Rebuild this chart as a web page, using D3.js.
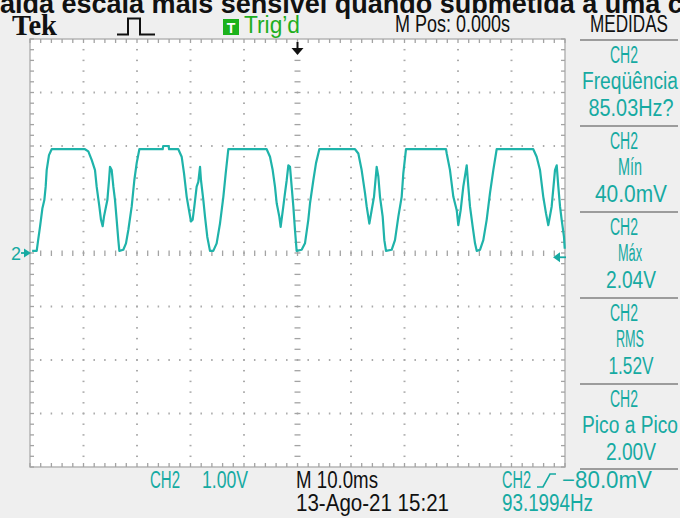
<!DOCTYPE html>
<html>
<head>
<meta charset="utf-8">
<script src="https://cdn.jsdelivr.net/npm/d3@7"></script>
<style>
  html, body { margin: 0; padding: 0; background: #efefef; }
  svg { display: block; }
</style>
</head>
<body>
<script>
// CH2 acquisition: time (ms, trigger at 0) and voltage (V)
const timeMs = [
  -49.6, -48.75, -48.44, -48.13, -47.69, -47.32, -47.07, -46.88, -46.45, -45.95,
  -39.72, -39.10, -38.47, -37.85, -37.54, -37.04, -36.73, -36.42, -36.17, -35.79,
  -35.54, -35.23, -35.05, -34.73, -34.42, -34.11, -33.80, -33.49, -33.30, -32.56,
  -32.06, -31.62, -30.99, -30.50, -30.06, -29.56, -25.2, -25.1, -24.1, -24.0,
  -22.28, -21.65, -21.21, -20.71, -20.28, -19.91, -19.60, -19.28, -18.85, -18.54,
  -18.22, -18.04, -17.60, -17.29, -16.86, -16.36, -15.74, -15.11, -14.49, -13.86,
  -13.42, -12.93, -5.76, -5.14, -4.64, -4.21, -3.89, -3.40, -3.15, -2.65,
  -2.34, -2.02, -1.71, -1.40, -1.09, -0.78, -0.47, -0.16, 0.78, 1.40,
  2.02, 2.34, 2.96, 3.46, 4.08, 10.75, 11.37, 11.99, 12.62, 12.93,
  13.43, 13.86, 14.30, 14.80, 15.11, 15.42, 15.92, 16.23, 16.54, 17.60,
  18.22, 18.85, 19.47, 19.78, 20.28, 27.76, 27.89, 28.50, 29.13, 29.76,
  30.06, 30.50, 30.99, 31.63, 31.93, 32.24, 32.75, 33.18, 33.50, 34.11,
  34.73, 35.36, 35.98, 36.60, 37.23, 44.07, 44.70, 45.33, 45.94, 46.45,
  46.88, 47.51, 48.13, 48.45, 48.75, 49.07, 49.38, 49.81, 49.95
];
const ch2Volts = [
  0.04, 0.04, 0.27, 0.49, 0.83, 0.99, 1.24, 1.55, 1.83, 1.94,
  1.94, 1.90, 1.74, 1.55, 1.24, 0.87, 0.62, 0.50, 0.68, 0.87,
  0.99, 1.36, 1.61, 1.55, 1.24, 0.99, 0.62, 0.24, 0.04, 0.06,
  0.18, 0.43, 0.87, 1.36, 1.68, 1.94, 1.94, 2.00, 2.00, 1.94,
  1.94, 1.80, 1.49, 1.05, 0.80, 0.59, 0.62, 0.87, 1.24, 1.33,
  1.61, 1.36, 0.99, 0.68, 0.30, 0.04, 0.04, 0.18, 0.55, 1.05,
  1.49, 1.94, 1.94, 1.80, 1.55, 1.24, 0.93, 0.68, 0.49, 0.87,
  1.12, 1.36, 1.64, 1.61, 1.24, 0.87, 0.43, 0.04, 0.06, 0.18,
  0.62, 0.93, 1.36, 1.68, 1.94, 1.94, 1.86, 1.55, 1.12, 0.87,
  0.55, 0.80, 1.05, 1.61, 1.43, 1.05, 0.68, 0.24, 0.04, 0.06,
  0.24, 0.68, 1.05, 1.49, 1.94, 1.94, 1.86, 1.55, 1.05, 0.80,
  0.52, 0.80, 1.24, 1.64, 1.24, 0.87, 0.49, 0.18, 0.04, 0.06,
  0.24, 0.62, 1.12, 1.55, 1.94, 1.94, 1.80, 1.55, 1.05, 0.74,
  0.52, 0.87, 1.55, 1.64, 1.24, 0.87, 0.62, 0.30, 0.08
];

// Display settings
const timeDomain = [-50, 50];     // 10.0 ms/div, 10 divisions
const voltDomain = [-4, 4];       // 1.00 V/div, 8 divisions
const triggerLevel = -0.08;       // V

// Measurement panel
const measSource = ["CH2", "CH2", "CH2", "CH2", "CH2"];
const measNames = ["Freqüência", "Mín", "Máx", "RMS", "Pico a Pico"];
const measValues = ["85.03Hz?", "40.0mV", "2.04V", "1.52V", "2.00V"];

// Status texts
const titleText = "Saída escala mais sensível quando submetida a uma carga";
const posText = "M Pos: 0.000s";
const panelTitle = "MEDIDAS";
const chScaleText = ["CH2", "1.00V"];
const timebaseText = "M 10.0ms";
const dateText = "13-Ago-21 15:21";
const trigText = ["CH2", "\u221280.0mV"];
const trigFreqText = "93.1994Hz";

const W = 680, H = 518;
const TEAL = "#16aaa2";
const TRACE = "#1fb3aa";
const FONT = "'Liberation Sans', Arial, sans-serif";
const FS = 23;

const svg = d3.select("body").append("svg").attr("width", W).attr("height", H);
svg.append("rect").attr("width", W).attr("height", H).attr("fill", "#efefef");

const x = d3.scaleLinear().domain(timeDomain).range([30, 565]);
const y = d3.scaleLinear().domain(voltDomain).range([467, 39]);

// narrow instrument-style text fitted to a given width
function label(sel, str, x0, base, width, color, size, anchor) {
  const t = sel.append("text")
    .attr("x", x0).attr("y", base)
    .attr("font-family", FONT).attr("font-size", size || FS)
    .attr("fill", color).text(str);
  if (width) t.attr("textLength", width).attr("lengthAdjust", "spacingAndGlyphs");
  if (anchor) t.attr("text-anchor", anchor);
  return t;
}

// ---- graticule ----
const g = svg.append("g");
g.append("rect")
  .attr("x", x(timeDomain[0])).attr("y", y(voltDomain[1]))
  .attr("width", x(timeDomain[1]) - x(timeDomain[0]))
  .attr("height", y(voltDomain[0]) - y(voltDomain[1]))
  .attr("fill", "#ffffff").attr("stroke", "#b5b5b5").attr("stroke-width", 1.5);

const minorT = d3.range(timeDomain[0], timeDomain[1] + 0.001, 2);
const minorV = d3.range(voltDomain[0], voltDomain[1] + 0.001, 0.2);
const majorT = d3.range(timeDomain[0] + 10, timeDomain[1], 10);
const majorV = d3.range(voltDomain[0] + 1, voltDomain[1], 1);
const tickCol = "#a3a3a3";

// edge ticks
minorT.forEach(t => {
  g.append("line").attr("x1", x(t)).attr("x2", x(t)).attr("y1", y(4)).attr("y2", y(4) + 4)
    .attr("stroke", tickCol).attr("stroke-width", 1.3);
  g.append("line").attr("x1", x(t)).attr("x2", x(t)).attr("y1", y(-4)).attr("y2", y(-4) - 4)
    .attr("stroke", tickCol).attr("stroke-width", 1.3);
});
minorV.forEach(v => {
  g.append("line").attr("x1", x(-50)).attr("x2", x(-50) + 4).attr("y1", y(v)).attr("y2", y(v))
    .attr("stroke", tickCol).attr("stroke-width", 1.3);
  g.append("line").attr("x1", x(50)).attr("x2", x(50) - 4).attr("y1", y(v)).attr("y2", y(v))
    .attr("stroke", tickCol).attr("stroke-width", 1.3);
});

// dotted major grid
majorT.filter(t => t !== 0).forEach(t => {
  minorV.slice(1, -1).forEach(v => {
    g.append("rect").attr("x", x(t) - 1).attr("y", y(v) - 0.75).attr("width", 2).attr("height", 1.5)
      .attr("fill", "#aaaaaa");
  });
});
majorV.filter(v => v !== 0).forEach(v => {
  minorT.slice(1, -1).forEach(t => {
    g.append("rect").attr("x", x(t) - 0.75).attr("y", y(v) - 1).attr("width", 1.5).attr("height", 2)
      .attr("fill", "#aaaaaa");
  });
});

// centre cross with ticks
minorT.slice(1, -1).forEach(t => {
  g.append("line").attr("x1", x(t)).attr("x2", x(t)).attr("y1", y(0) - 2.5).attr("y2", y(0) + 3)
    .attr("stroke", tickCol).attr("stroke-width", 1.3);
});
minorV.slice(1, -1).forEach(v => {
  g.append("line").attr("x1", x(0) - 3).attr("x2", x(0) + 3).attr("y1", y(v)).attr("y2", y(v))
    .attr("stroke", tickCol).attr("stroke-width", 1.3);
});

// ---- trace ----
const pts = timeMs.map((t, i) => [t, ch2Volts[i]]);
svg.append("path")
  .datum(pts)
  .attr("fill", "none")
  .attr("stroke", TRACE)
  .attr("stroke-width", 2.2)
  .attr("stroke-linejoin", "round")
  .attr("d", d3.line().x(d => x(d[0])).y(d => y(d[1])));

// ground reference marker "2"
const gy = y(0);
label(svg, "2", 11, gy + 7, 10, TEAL, 19);
svg.append("line").attr("x1", 21).attr("x2", 29).attr("y1", gy).attr("y2", gy)
  .attr("stroke", TEAL).attr("stroke-width", 1.8);
svg.append("path").attr("d", `M24,${gy - 4.5} L31,${gy} L24,${gy + 4.5} Z`).attr("fill", TEAL);

// trigger level marker (right edge)
const ty = y(triggerLevel);
svg.append("line").attr("x1", 556).attr("x2", 566).attr("y1", ty).attr("y2", ty)
  .attr("stroke", TEAL).attr("stroke-width", 1.8);
svg.append("path").attr("d", `M553,${ty} L560,${ty - 5} L560,${ty + 5} Z`).attr("fill", TEAL);

// trigger position marker (top)
const tx = x(0);
svg.append("line").attr("x1", tx).attr("x2", tx).attr("y1", 42).attr("y2", 49)
  .attr("stroke", "#111").attr("stroke-width", 2);
svg.append("path").attr("d", `M${tx - 6},48 L${tx + 6},48 L${tx},55 Z`).attr("fill", "#111");

// ---- header ----
svg.append("text").attr("x", -18).attr("y", 13)
  .attr("font-family", FONT).attr("font-weight", "bold").attr("font-size", 27)
  .attr("fill", "#111").text(titleText);

svg.append("text").attr("x", 12).attr("y", 35)
  .attr("font-family", "'Liberation Serif', 'DejaVu Serif', serif")
  .attr("font-weight", "bold").attr("font-size", 29)
  .attr("textLength", 45).attr("lengthAdjust", "spacingAndGlyphs")
  .attr("fill", "#111").text("Tek");

svg.append("path").attr("d", "M117,34.5 H128 V18.5 H140 V34.5 H155")
  .attr("fill", "none").attr("stroke", "#111").attr("stroke-width", 2);

svg.append("rect").attr("x", 223).attr("y", 19).attr("width", 16).attr("height", 16).attr("fill", "#1cb21c");
label(svg, "T", 231, 32.5, null, "#ffffff", 14, "middle").attr("font-weight", "bold");
label(svg, "Trig\u2019d", 244, 33, 56, "#1fae1f", FS);

label(svg, posText, 395, 32, 115, "#111", FS);
label(svg, panelTitle, 590, 32, 78, "#111", FS);

// ---- measurement panel ----
const sepY = [40, 126, 212, 298, 384, 469];
sepY.forEach(s => {
  svg.append("line").attr("x1", 580).attr("x2", 678).attr("y1", s).attr("y2", s)
    .attr("stroke", "#9c9c9c").attr("stroke-width", 2);
});
const srcW = 28;
const nameW = { "Freqüência": 96, "Mín": 24, "Máx": 24, "RMS": 28, "Pico a Pico": 96 };
const valW = { "85.03Hz?": 85, "40.0mV": 72, "2.04V": 50, "1.52V": 45, "2.00V": 50 };
measNames.forEach((n, i) => {
  const top = sepY[i];
  label(svg, measSource[i], 624, top + 23, srcW, TEAL, FS, "middle");
  label(svg, n, 630, top + 49, nameW[n], TEAL, FS, "middle");
  label(svg, measValues[i], 631, top + 76, valW[measValues[i]], TEAL, FS, "middle");
});

// ---- footer ----
label(svg, chScaleText[0], 150, 488, 30, TEAL, FS);
label(svg, chScaleText[1], 202, 488, 46, TEAL, FS);
label(svg, timebaseText, 296, 488, 82, "#111", FS);
label(svg, dateText, 296, 511, 153, "#111", FS);
label(svg, trigText[0], 502, 488, 29, TEAL, FS);
svg.append("path").attr("d", "M537,487 H543 L550,474 H556")
  .attr("fill", "none").attr("stroke", TEAL).attr("stroke-width", 1.6);
label(svg, trigText[1], 562, 488, 90, TEAL, FS);
label(svg, trigFreqText, 502, 511, 91, TEAL, FS);
</script>
</body>
</html>
